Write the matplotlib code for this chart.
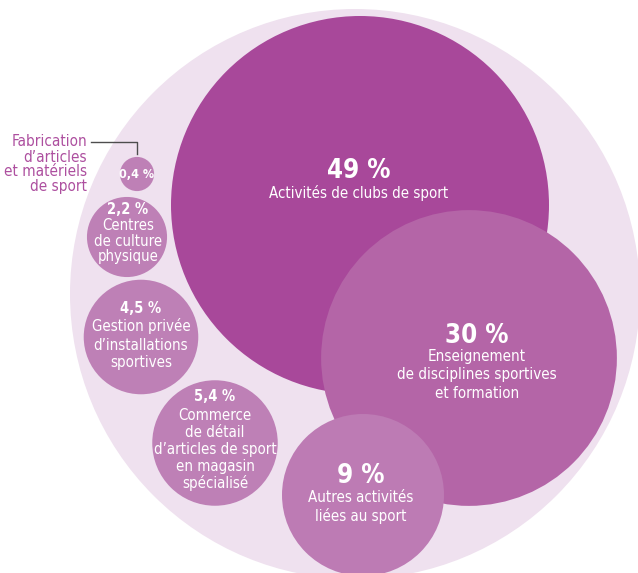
import numpy as np
import matplotlib
matplotlib.use('Agg')
import matplotlib.pyplot as plt
from matplotlib.patches import Circle

plt.rcParams['font.family'] = ['DejaVu Sans']
plt.rcParams['font.stretch'] = 'condensed'

# data
values = [49, 30, 9, 5.4, 4.5, 2.2, 0.4]
pct_labels = ['49 %', '30 %', '9 %', '5,4 %', '4,5 %', '2,2 %', '0,4 %']
names = [
    ['Activités de clubs de sport'],
    ['Enseignement', 'de disciplines sportives', 'et formation'],
    ['Autres activités', 'liées au sport'],
    ['Commerce', 'de détail', 'd\u2019articles de sport', 'en magasin', 'spécialisé'],
    ['Gestion privée', 'd\u2019installations', 'sportives'],
    ['Centres', 'de culture', 'physique'],
    [],
]
outside_label = ['Fabrication', 'd\u2019articles', 'et matériels', 'de sport']

# layout (pixels, y downwards)
centers = [(360, 205), (469, 358), (363, 495), (215, 443), (141, 337), (127, 237), (137, 174)]
colors = ['#a8489a', '#b465a7', '#bd7bb4', '#be80b6', '#be80b6', '#be80b6', '#be80b6']
text_x = [359, 477, 361, 215, 141, 128, 137]
pct_base = [178, 343, 483, 401, 313, 214, 178]
first_gap = [20, 17.5, 19.5, 19, 18.5, 16.5, 0]
line_gap = [0, 19, 19, 17, 18, 15.5, 0]
pct_size = [18.5, 18.5, 18.5, 10.5, 10.5, 10.5, 9]
name_size = [10.8, 10.9, 10.8, 10.8, 10.8, 10.7, 10.8]
scale = 27.0  # radius = scale * sqrt(value)

fig = plt.figure(figsize=(6.38, 5.73), dpi=100)
ax = fig.add_axes([0, 0, 1, 1])
ax.set_xlim(0, 638)
ax.set_ylim(573, 0)
ax.set_aspect('equal')
ax.axis('off')

ax.add_patch(Circle((355, 294), 285, color='#efe1ef', lw=0, zorder=1))

for i, v in enumerate(values):
    cx, cy = centers[i]
    r = scale * np.sqrt(v)
    ax.add_patch(Circle((cx, cy), r, color=colors[i], lw=0, zorder=2 + i * 0.01))
    ax.text(text_x[i], pct_base[i], pct_labels[i], ha='center', va='baseline',
            fontsize=pct_size[i], fontweight='bold', color='white', zorder=5)
    y = pct_base[i]
    for j, line in enumerate(names[i]):
        y += first_gap[i] if j == 0 else line_gap[i]
        ax.text(text_x[i], y, line, ha='center', va='baseline', fontsize=name_size[i],
                color='white', zorder=5)

# label outside the small circle
for j, line in enumerate(outside_label):
    ax.text(87, 146.5 + 15 * j, line, ha='right', va='baseline', fontsize=11,
            color='#ad4f9f', zorder=5)
ax.plot([91, 137, 137], [141.5, 141.5, 154], color='#4d4d4d', lw=1, zorder=5)

fig.savefig('out.png', dpi=100)
